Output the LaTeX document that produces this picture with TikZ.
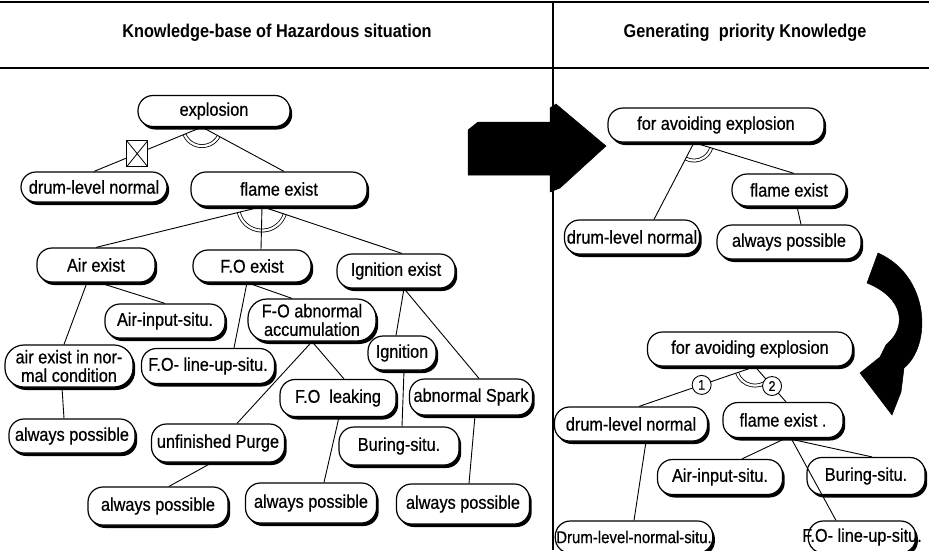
\documentclass[tikz,border=0pt]{standalone}
\usepackage{fontspec}
\setmainfont[FakeStretch=0.88]{Liberation Sans}
\newfontfamily\labelfam[FakeStretch=0.88, FakeBold=0.6]{Liberation Sans}
\usetikzlibrary{shadows,calc}

\newcommand\nfont{\labelfam\fontsize{18.5}{18}\selectfont}
\newcommand\hfont{\fontsize{18.5}{20}\selectfont\bfseries}

% double "AND" arc drawn round a junction, between the directions of two branches
\newcommand\andarc[4]{%
  \draw[andarc] let \p1=(#1), \p2=(#2), \p3=(#3),
    \n1={atan2(\y2-\y1,\x2-\x1)}, \n2={atan2(\y3-\y1,\x3-\x1)} in
    ($(\p1)+(\n1:#4)$) arc[start angle=\n1, end angle=\n2, radius=#4];}

\tikzset{
  pill/.style={draw, line width=1.2pt, fill=white, rounded corners=15pt,
    minimum height=31pt, inner xsep=1pt, inner ysep=1pt, font=\nfont, align=center,
    drop shadow={shadow xshift=2.2pt, shadow yshift=-3pt, fill=black, opacity=1}},
  twoline/.style={font=\labelfam\fontsize{18.5}{18.5}\selectfont, rounded corners=19pt},
  link/.style={line width=0.9pt},
  andarc/.style={draw=black, line width=0.8pt, double=white, double distance=2.2pt},
  chk/.style={draw, fill=white, line width=0.9pt, minimum width=21pt, minimum height=26pt,
    inner sep=0pt, path picture={\draw[line width=0.8pt]
      (path picture bounding box.south west) -- (path picture bounding box.north east)
      (path picture bounding box.north west) -- (path picture bounding box.south east);}},
  numc/.style={circle, draw, fill=white, line width=0.9pt, minimum size=19pt, inner sep=0pt,
    font=\labelfam\fontsize{14}{14}\selectfont},
  header/.style={font=\hfont, inner sep=0pt},
  bigarrow/.style={fill=black, draw=black, line width=0.5pt}
}

\begin{document}
\begin{tikzpicture}[x=1pt,y=1pt]
\useasboundingbox (0,0) rectangle (929,-550);

% frame lines
\draw[line width=2.2pt] (0,-2) -- (929,-2);
\draw[line width=1.6pt] (0,-68) -- (929,-68);
\draw[line width=1.4pt] (553,-2) -- (553,-550);

% column headings
\node[header] (hl) at (277,-33) {Knowledge-base of Hazardous situation};
\node[header] (hr) at (745,-33) {Generating\enspace priority Knowledge};

% ---------- knowledge base tree ----------
\node[pill, minimum width=152pt] (exp)   at (214,-111) {explosion};
\node[pill, minimum width=146pt, minimum height=30pt] (drumL) at (94,-187) {drum-level normal};
\node[pill, minimum width=176pt, minimum height=34pt] (flameL) at (279,-189) {flame exist};
\node[pill, minimum width=118pt, minimum height=34pt] (air)  at (96,-265) {Air exist};
\node[pill, minimum width=118pt, minimum height=32pt] (fo)   at (252,-266) {F.O exist};
\node[pill, minimum width=118pt, minimum height=34pt] (ign)  at (396,-271) {Ignition exist};
\node[pill, minimum width=120pt, minimum height=34pt] (airin) at (165,-321) {Air-input-situ.};
\node[pill, twoline, minimum width=128pt, minimum height=42pt] (foacc) at (312,-320) {F-O abnormal\\accumulation};
\node[pill, twoline, minimum width=128pt, minimum height=42pt] (airnorm) at (69,-366) {air exist in nor-\\mal condition};
\node[pill, minimum width=133pt, minimum height=35pt] (foline) at (208,-366) {F.O- line-up-situ.};
\node[pill, minimum width=68pt, minimum height=34pt] (ignit) at (402,-353) {Ignition};
\node[pill, minimum width=116pt, minimum height=37pt] (foleak) at (338,-398) {F.O~ leaking};
\node[pill, minimum width=123pt, minimum height=36pt] (spark) at (471,-397) {abnormal Spark};
\node[pill, minimum width=133pt, minimum height=38pt] (purge) at (218,-443) {unfinished Purge};
\node[pill, minimum width=120pt, minimum height=38pt] (buring) at (399,-446) {Buring-situ.};
\node[pill, minimum width=126pt, minimum height=34pt] (ap1) at (72,-436) {always possible};
\node[pill, minimum width=140pt, minimum height=38pt] (ap2) at (158,-506) {always possible};
\node[pill, minimum width=131pt, minimum height=40pt] (ap3) at (311,-503) {always possible};
\node[pill, minimum width=133pt, minimum height=40pt] (ap4) at (463,-504) {always possible};

\coordinate (j1) at ([xshift=-12pt]exp.south);
\coordinate (j2) at ([xshift=-17pt]flameL.south);

\andarc{j1}{drumL.north}{[xshift=5pt]flameL.north}{19pt}
\andarc{j2}{air.north}{[xshift=6pt]ign.north}{24pt}

\draw[link] (j1) -- node[chk, pos=0.6] (xbox) {} (drumL.north);
\draw[link] (j1) -- ([xshift=5pt]flameL.north);
\draw[link] (j2) -- (air.north);
\draw[link] (j2) -- ([xshift=9pt]fo.north);
\draw[link] (j2) -- ([xshift=6pt]ign.north);
\draw[link] ([xshift=3pt]air.south) -- (airin.north);
\draw[link] ([xshift=-9pt]air.south) -- ([xshift=-5pt]airnorm.north);
\draw[link] ([xshift=-7pt]airnorm.south) -- ([xshift=-8pt]ap1.north);
\draw[link] ([xshift=-5pt]fo.south) -- ([xshift=26pt]foline.north);
\draw[link] ([xshift=-5pt]fo.south) -- ([xshift=-20pt]foacc.north);
\draw[link] (foacc.south) -- ([xshift=19pt]purge.north);
\draw[link] (foacc.south) -- ([xshift=6pt]foleak.north);
\draw[link] ([xshift=1pt]foleak.south) -- ([xshift=13pt]ap3.north);
\draw[link] ([xshift=-6pt]purge.south) -- ([xshift=11pt]ap2.north);
\draw[link] ([xshift=8pt]ign.south) -- ([xshift=-6pt]ignit.north);
\draw[link] ([xshift=8pt]ign.south) -- ([xshift=8pt]spark.north);
\draw[link] ([xshift=2pt]ignit.south) -- ([xshift=3pt]buring.north);
\draw[link] ([xshift=4pt]spark.south) -- ([xshift=6pt]ap4.north);

% ---------- arrows between the columns ----------
\path[bigarrow] (468,-130) -- (478,-122) -- (550,-122) -- (550,-108) -- (556,-104)
  -- (606,-146) -- (560,-188) -- (550,-192) -- (550,-175) -- (468,-175) -- cycle;
\path[bigarrow] (878,-253) .. controls (930,-276) and (932,-345) .. (904,-368)
  -- (901,-392) -- (892,-415) -- (860,-373) -- (880,-357) -- (886,-345) -- (891,-340)
  .. controls (905,-325) and (904,-298) .. (867,-283) -- cycle;

% ---------- priority knowledge, first stage ----------
\node[pill, minimum width=216pt, minimum height=34pt] (avo1) at (716,-125) {for avoiding explosion};
\node[pill, minimum width=114pt, minimum height=32pt] (flameR1) at (789,-190) {flame exist};
\node[pill, minimum width=135pt, minimum height=34pt] (drumR1) at (632,-237) {drum-level normal};
\node[pill, minimum width=144pt, minimum height=34pt] (apR) at (789,-242) {always possible};

\coordinate (j3) at ([xshift=-22pt]avo1.south);
\andarc{j3}{[xshift=22pt]drumR1.north}{[xshift=5pt]flameR1.north}{18pt}
\draw[link] (j3) -- ([xshift=22pt]drumR1.north);
\draw[link] (j3) -- ([xshift=5pt]flameR1.north);
\draw[link] ([xshift=8pt]flameR1.south) -- ([xshift=12pt]apR.north);

% ---------- priority knowledge, ordered ----------
\node[pill, minimum width=205pt, minimum height=34pt] (avo2) at (750,-349) {for avoiding explosion};
\node[pill, minimum width=153pt, minimum height=34pt] (drumR2) at (631,-424) {drum-level normal};
\node[pill, minimum width=120pt, minimum height=35pt] (flameR2) at (783,-420) {flame exist~.};
\node[pill, minimum width=125pt, minimum height=35pt] (airinR) at (720,-477) {Air-input-situ.};
\node[pill, minimum width=118pt, minimum height=37pt] (buringR) at (866,-476) {Buring-situ.};
\node[pill, minimum width=156pt, minimum height=32pt, font=\labelfam\fontsize{17}{17}\selectfont] (drumsitu) at (634,-537) {Drum-level-normal-situ.};
\node[pill, minimum height=32pt, inner xsep=-6pt] (folineR) at (862,-537) {F.O- line-up-situ.};

\coordinate (j4) at ([xshift=5pt]avo2.south);
\andarc{j4}{[xshift=8pt]drumR2.north}{[xshift=3pt]flameR2.north}{19pt}
\draw[link] (j4) -- node[numc, pos=0.46] (n1) {1} ([xshift=8pt]drumR2.north);
\draw[link] (j4) -- node[numc, pos=0.55] (n2) {2} ([xshift=3pt]flameR2.north);
\draw[link] ([xshift=3pt]flameR2.south) -- ([xshift=22pt]airinR.north);
\draw[link] ([xshift=3pt]flameR2.south) -- ([xshift=6pt]buringR.north);
\draw[link] ([xshift=8pt]flameR2.south) -- ([xshift=-26pt]folineR.north);
\draw[link] ([xshift=15pt]drumR2.south) -- (drumsitu.north);
\end{tikzpicture}
\end{document}
